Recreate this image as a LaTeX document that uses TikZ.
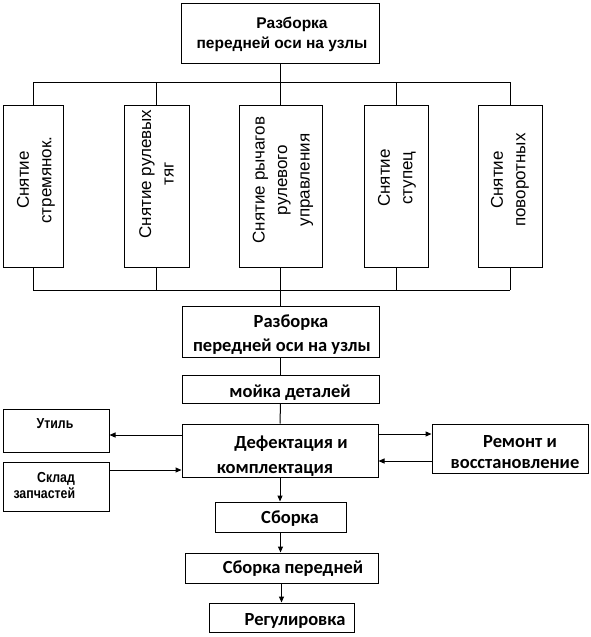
\documentclass[tikz,border=0pt]{standalone}
\usepackage{fontspec}
\setmainfont{Liberation Sans}
\newfontfamily\calfont{Carlito}
\newfontfamily\narrowfont[FakeStretch=0.85]{Liberation Sans}
\usetikzlibrary{arrows.meta,calc}

\tikzset{
  box/.style={draw,line width=1pt,inner sep=0pt},
  tall/.style={box,minimum height=162pt,minimum width=#1},
  vtext/.style={rotate=90,align=center,inner sep=0pt,font=\fontsize{17}{22.5}\selectfont},
  htext/.style={anchor=base,inner sep=0pt,font=\calfont\bfseries\fontsize{18.5}{22}\selectfont},
  stext/.style={anchor=base,inner sep=0pt,font=\narrowfont\bfseries\fontsize{14.5}{16}\selectfont},
  arr/.style={-{Triangle[length=6pt,width=5pt]}},
}

\begin{document}
\begin{tikzpicture}[x=1pt,y=-1pt,line width=1pt]
\useasboundingbox (0,0) rectangle (591,637);
% top box
\node[box,minimum width=198pt,minimum height=60pt] (top) at (280,33) {};
\node[htext,font=\bfseries\fontsize{15.5}{20}\selectfont] (topA) at (292,28) {Разборка};
\node[htext,font=\bfseries\fontsize{15.5}{20}\selectfont] (topB) at (282,48) {передней оси на узлы};
% removal steps
\node[tall=60pt] (t1) at (33,186) {};
\node[tall=65pt] (t2) at (156.5,186) {};
\node[tall=83pt] (t3) at (280.5,186) {};
\node[tall=64pt] (t4) at (396,186) {};
\node[tall=64pt] (t5) at (510,186) {};
\node[vtext] (t1txt) at (36,180) {Снятие\\стремянок.};
\node[vtext] (t2txt) at (156.5,174) {Снятие рулевых\\тяг};
\node[vtext] (t3txt) at (283,180) {Снятие рычагов\\рулевого\\управления};
\node[vtext] (t4txt) at (397,178) {Снятие\\ступец};
\node[vtext] (t5txt) at (510,180) {Снятие\\поворотных};
% buses
\coordinate (busT) at (0,82);
\coordinate (busB) at (0,290);
\draw (top.south) -- (top.south |- busT);
\draw (t1.north |- busT) -- (t5.north |- busT);
\draw (t1.south |- busB) -- (t5.south |- busB);
\foreach \n in {t1,t2,t3,t4,t5} {
  \draw (\n.north) -- (\n.north |- busT);
  \draw (\n.south) -- (\n.south |- busB);
}
% second disassembly box
\node[box,minimum width=197pt,minimum height=51pt] (mid) at (280.5,331.5) {};
\begin{scope}
\clip (mid.north west) rectangle ($(mid.south east)+(0,4pt)$);
\node[htext] (midA) at (291,327) {Разборка};
\node[htext] (midB) at (282,351) {передней оси на узлы};
\end{scope}
\draw (mid.north |- busB) -- (mid.north);
% washing
\node[box,minimum width=197pt,minimum height=28pt] (wash) at (280.5,389) {};
\node[htext] (washA) at (290,397) {мойка деталей};
\draw (mid.south) -- (wash.north);
% defect detection
\node[box,minimum width=196pt,minimum height=53pt] (defect) at (280,450.5) {};
\begin{scope}
\clip (defect.north west) rectangle ($(defect.south east)+(0,2pt)$);
\node[htext] (defA) at (291,448) {Дефектация и};
\node[htext] (defB) at (275,473) {комплектация};
\end{scope}
\draw (wash.south) -- (defect.north);
% side boxes
\node[box,minimum width=106pt,minimum height=43pt] (util) at (56,430.5) {};
\node[stext] (utilA) at (55,428) {Утиль};
\node[box,minimum width=106pt,minimum height=49pt] (sklad) at (56,486.5) {};
\node[stext] (skladA) at (56,482) {Склад};
\node[stext,anchor=base west] (skladB) at (13,498) {запчастей};
\node[box,minimum width=156pt,minimum height=49pt] (repair) at (510,448.5) {};
\begin{scope}
\clip (repair.north west) rectangle ($(repair.south east)+(0,3pt)$);
\node[htext] (repA) at (520,447) {Ремонт и};
\node[htext] (repB) at (515,468) {восстановление};
\end{scope}
% side arrows
\coordinate (hUtil) at (0,435);
\coordinate (hRepA) at (0,434);
\coordinate (hRepB) at (0,461);
\coordinate (hSklad) at (0,470);
\draw[arr] (defect.west |- hUtil) -- (util.east |- hUtil);
\draw[arr] (defect.east |- hRepA) -- (repair.west |- hRepA);
\draw[arr] (repair.west |- hRepB) -- (defect.east |- hRepB);
\draw[arr] (sklad.east |- hSklad) -- (defect.west |- hSklad);
% assembly chain
\node[box,minimum width=131pt,minimum height=30pt] (asm) at (280.5,517) {};
\node[htext] (asmA) at (290,523) {Сборка};
\node[box,minimum width=193pt,minimum height=30pt] (front) at (281.5,568) {};
\node[htext] (frontA) at (293,573) {Сборка передней};
\node[box,minimum width=145pt,minimum height=29pt] (adj) at (281.5,617.5) {};
\node[htext] (adjA) at (295,625) {Регулировка};
\draw[arr] (defect.south) -- (defect.south |- asm.north);
\draw[arr] (asm.south) -- (asm.south |- front.north);
\draw[arr] (front.south) -- (front.south |- adj.north);
\end{tikzpicture}
\end{document}
